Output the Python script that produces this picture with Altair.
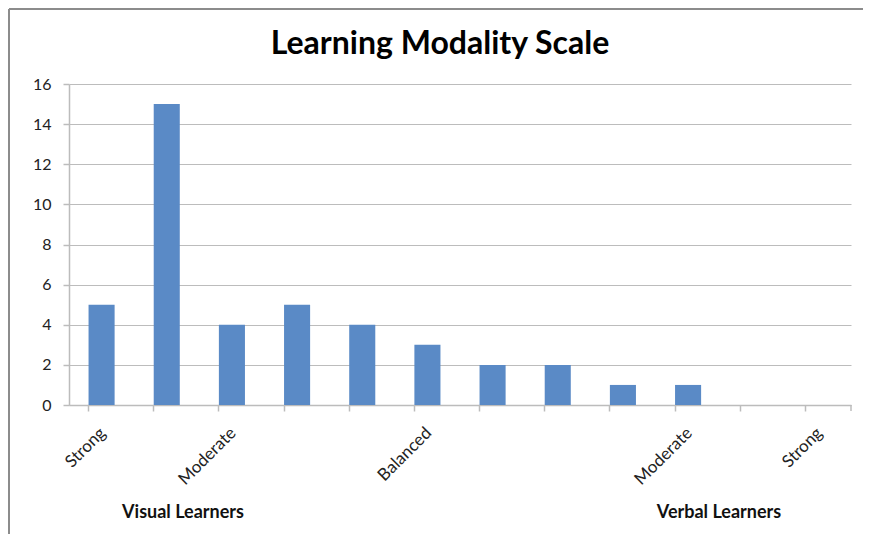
import altair as alt
import pandas as pd

# ---- data ----
positions = [f"c{i}" for i in range(1, 13)]
counts = [5, 15, 4, 5, 4, 3, 2, 2, 1, 1, 0, 0]
tick_labels = ["Strong", "", "Moderate", "", "", "Balanced", "", "", "", "Moderate", "", "Strong"]
y_ticks = [0, 2, 4, 6, 8, 10, 12, 14, 16]
group_labels = ["Visual Learners", "Verbal Learners"]
title_text = "Learning Modality Scale"

df = pd.DataFrame({"pos": positions, "count": counts, "label": tick_labels})

FONT = "Lato"
GRID = "#bcbcbc"
BAR = "#5A8AC6"
W, H = 782, 321

x_scale = alt.Scale(domain=positions, paddingInner=0.6, paddingOuter=0.3)
y_scale = alt.Scale(domain=[0, 16], nice=False)

bars = alt.Chart(df).mark_bar(color=BAR).encode(
    x=alt.X("pos:N", scale=x_scale, sort=positions, title=None,
            axis=alt.Axis(bandPosition=0, labels=False, ticks=True, tickSize=6,
                          tickColor=GRID, tickWidth=1.5, domain=True,
                          domainColor=GRID, domainWidth=1.5, grid=False)),
    y=alt.Y("count:Q", scale=y_scale, title=None,
            axis=alt.Axis(values=y_ticks, grid=True, gridColor=GRID, gridWidth=1,
                          domain=True, domainColor=GRID, domainWidth=1.5,
                          tickSize=6, tickColor=GRID, tickWidth=1.5, labelPadding=12,
                          labelFont=FONT, labelFontSize=16, labelColor="#222222")),
)

cat_labels = alt.Chart(df).mark_text(
    font=FONT, fontSize=17, color="#222222", angle=315, align="right",
    baseline="middle", dx=2
).encode(
    x=alt.X("pos:N", scale=x_scale, sort=positions),
    y=alt.value(H + 27),
    text="label:N",
)

end_tick = alt.Chart(df.head(1)).mark_rule(color=GRID, strokeWidth=1.5).encode(
    x=alt.value(W), y=alt.value(H), y2=alt.value(H + 6)
)

frame_left = alt.Chart(df.head(1)).mark_rule(color="#8c8c8c", strokeWidth=2).encode(
    x=alt.value(-60), y=alt.value(-75), y2=alt.value(470)
)
frame_top = alt.Chart(df.head(1)).mark_rule(color="#8c8c8c", strokeWidth=2).encode(
    x=alt.value(-60), x2=alt.value(810), y=alt.value(-75)
)

title = alt.Chart(pd.DataFrame({"t": [title_text]})).mark_text(
    font=FONT, fontSize=32, fontWeight="bold", color="#000000", baseline="alphabetic"
).encode(text="t:N", x=alt.value(371), y=alt.value(-30))

visual = alt.Chart(pd.DataFrame({"t": [group_labels[0]]})).mark_text(
    font=FONT, fontSize=18, fontWeight="bold", color="#111111", baseline="alphabetic"
).encode(text="t:N", x=alt.value(114), y=alt.value(434))
verbal = alt.Chart(pd.DataFrame({"t": [group_labels[1]]})).mark_text(
    font=FONT, fontSize=18, fontWeight="bold", color="#111111", baseline="alphabetic"
).encode(text="t:N", x=alt.value(650), y=alt.value(434))

chart = alt.layer(
    frame_left, frame_top, bars, cat_labels, end_tick, title, visual, verbal
).properties(
    width=W, height=H,
    autosize=alt.AutoSizeParams(type="none"),
    padding={"left": 61, "top": 76, "right": 12, "bottom": 129},
).configure_view(stroke=None)

chart.save("out.html", embed_options={"renderer": "svg", "actions": False})
